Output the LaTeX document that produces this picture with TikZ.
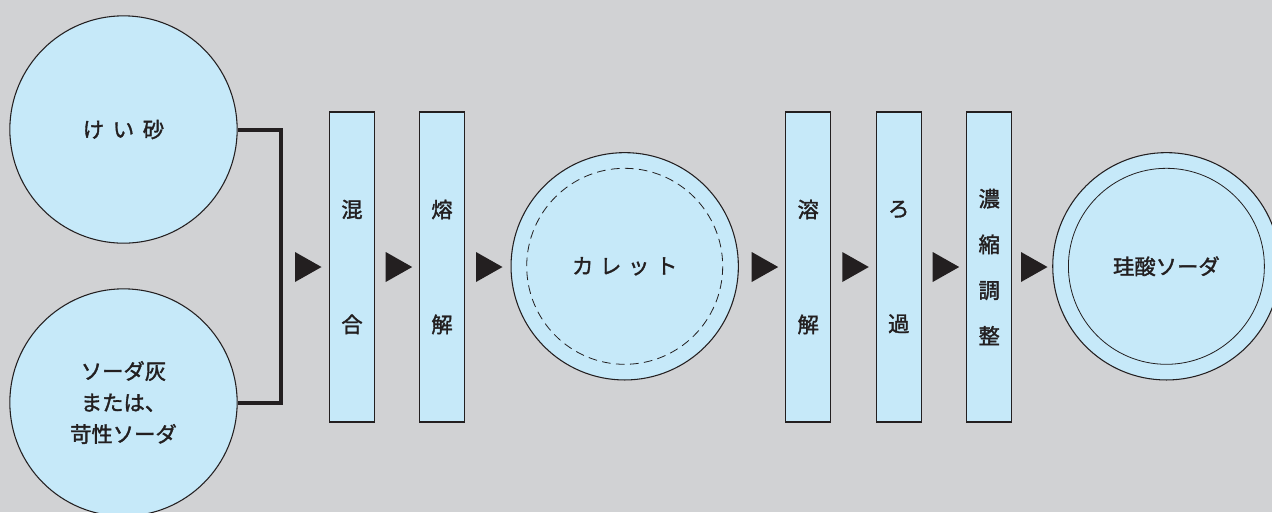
\documentclass[tikz,border=0pt]{standalone}
\usepackage{fontspec}
\setmainfont{Noto Sans CJK JP}[FakeBold=1.6]
\usetikzlibrary{shapes.geometric}
\definecolor{bg}{HTML}{D1D2D4}
\definecolor{fillb}{HTML}{C6E9F9}
\definecolor{ink}{HTML}{231F20}
\tikzset{
  jp/.style={font=\fontsize{16}{23.6}\selectfont, text=ink},
  bigcircle/.style={circle, draw=ink, line width=0.8pt, fill=fillb, minimum size=170.5pt, inner sep=0pt, jp, align=center},
  stepbox/.style={rectangle, draw=ink, line width=1pt, fill=fillb, minimum width=33.75pt, minimum height=232.5pt, inner sep=0pt, align=center, jp},
  twochar/.style={font=\fontsize{16}{86.25}\selectfont},
  fourchar/.style={font=\fontsize{16}{34.3}\selectfont},
  conn/.style={draw=ink, line width=3pt, line join=miter},
  tri/.style={fill=ink},
  innerdash/.style={draw=ink, line width=0.6pt, dash pattern=on 6.5pt off 4pt},
  innerline/.style={draw=ink, line width=0.6pt}
}
\begin{document}
\begin{tikzpicture}[x=0.75pt, y=-0.75pt]
\useasboundingbox (0,0) rectangle (1272,512);
\clip (0,0) rectangle (1272,512);
\fill[bg] (0,0) rectangle (1272,512);

% connector
\coordinate (j) at (281,267);
\node[bigcircle] (k) at (123.5,129.5) {け\hspace{6.5pt}い\hspace{6.5pt}砂};
\node[bigcircle] (s) at (123.5,402.5) {ソーダ灰\\または、\\苛性ソーダ};
\draw[conn] (k.east) -| (j) |- (s.east);

% boxes
\node[stepbox, twochar] (b1) at (352,267) {混\\合};
\node[stepbox, twochar] (b2) at (442,267) {熔\\解};
\node[bigcircle] (c) at (624.7,266.3) {カ\hspace{5pt}レ\hspace{5pt}ッ\hspace{5pt}ト};
\draw[innerdash] (c.center) circle (98);
\node[stepbox, twochar] (b3) at (808.2,267) {溶\\解};
\node[stepbox, twochar] (b4) at (898.8,267) {ろ\\過};
\node[stepbox, fourchar] (b5) at (989.2,267) {濃\\縮\\調\\整};
\node[bigcircle] (f) at (1166.4,266.3) {珪酸ソーダ};
\draw[innerline] (f.center) circle (98);

% triangles
\foreach \x/\n in {295/t1, 385.7/t2, 476/t3, 751.7/t4, 842.3/t5, 932.7/t6, 1021/t7}{
  \coordinate (\n) at (\x,267);
  \fill[tri] (\n) ++(0,-15) -- ++(26.5,15) -- ++(-26.5,15) -- cycle;
}
\end{tikzpicture}
\end{document}
